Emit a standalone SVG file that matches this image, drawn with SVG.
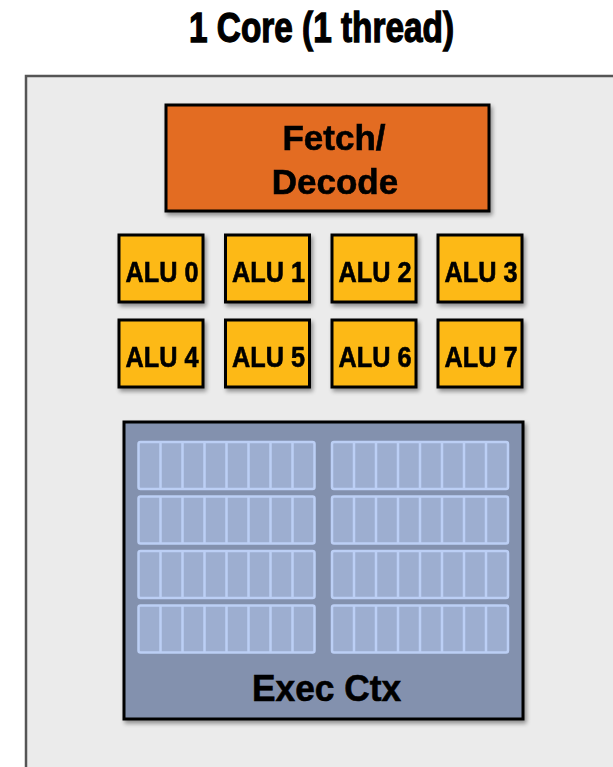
<svg xmlns="http://www.w3.org/2000/svg" width="613" height="767" viewBox="0 0 613 767">
<defs>
<style>
.t{font-family:"Liberation Sans",Arial,sans-serif;font-weight:bold;fill:#000;text-anchor:middle;stroke:#000;stroke-width:0.6}
.alu rect{fill:#fdb913;stroke:#000;stroke-width:3}
.alu text{font-size:29px}
.grp{fill:#9daed0;stroke:#bccff5;stroke-width:2.5}
.cl{stroke:#bccff5;stroke-width:2.5}
</style>
<filter id="sh" x="-10%" y="-10%" width="130%" height="130%">
<feGaussianBlur in="SourceAlpha" stdDeviation="2"/>
<feOffset dx="2" dy="3"/>
<feComponentTransfer><feFuncA type="linear" slope="0.4"/></feComponentTransfer>
<feMerge><feMergeNode/><feMergeNode in="SourceGraphic"/></feMerge>
</filter>
<g id="regrow">
<rect class="grp" x="0" y="0" width="176" height="47" rx="2"/>
<path class="cl" d="M22 0V47M44 0V47M66 0V47M88 0V47M110 0V47M132 0V47M154 0V47"/>
</g>
</defs>
<rect width="613" height="767" fill="#fff"/>
<text class="t" x="321.5" y="42" font-size="42" style="stroke-width:1.3" textLength="265" lengthAdjust="spacingAndGlyphs">1 Core (1 thread)</text>
<g id="core">
<rect x="26" y="76" width="600" height="720" fill="#ebebeb" stroke="#555" stroke-width="2.5"/>
</g>
<g id="fetch" filter="url(#sh)">
<rect x="166" y="105" width="323" height="106" fill="#e36c23" stroke="#000" stroke-width="3"/>
<text class="t" x="334" y="150" font-size="35">Fetch/</text>
<text class="t" x="335" y="194" font-size="35">Decode</text>
</g>
<g id="alu0" class="alu" filter="url(#sh)"><rect x="119" y="235" width="84" height="67"/><text class="t" x="162" y="282" textLength="73" lengthAdjust="spacingAndGlyphs">ALU 0</text></g>
<g id="alu1" class="alu" filter="url(#sh)"><rect x="225.5" y="235" width="84" height="67"/><text class="t" x="268.5" y="282" textLength="73" lengthAdjust="spacingAndGlyphs">ALU 1</text></g>
<g id="alu2" class="alu" filter="url(#sh)"><rect x="332" y="235" width="84" height="67"/><text class="t" x="375" y="282" textLength="73" lengthAdjust="spacingAndGlyphs">ALU 2</text></g>
<g id="alu3" class="alu" filter="url(#sh)"><rect x="438" y="235" width="84" height="67"/><text class="t" x="481" y="282" textLength="73" lengthAdjust="spacingAndGlyphs">ALU 3</text></g>
<g id="alu4" class="alu" filter="url(#sh)"><rect x="119" y="320" width="84" height="67"/><text class="t" x="162" y="367" textLength="73" lengthAdjust="spacingAndGlyphs">ALU 4</text></g>
<g id="alu5" class="alu" filter="url(#sh)"><rect x="225.5" y="320" width="84" height="67"/><text class="t" x="268.5" y="367" textLength="73" lengthAdjust="spacingAndGlyphs">ALU 5</text></g>
<g id="alu6" class="alu" filter="url(#sh)"><rect x="332" y="320" width="84" height="67"/><text class="t" x="375" y="367" textLength="73" lengthAdjust="spacingAndGlyphs">ALU 6</text></g>
<g id="alu7" class="alu" filter="url(#sh)"><rect x="438" y="320" width="84" height="67"/><text class="t" x="481" y="367" textLength="73" lengthAdjust="spacingAndGlyphs">ALU 7</text></g>
<g id="execctx">
<rect x="124" y="422" width="399" height="297" fill="#8391ae" stroke="#000" stroke-width="3" filter="url(#sh)"/>
<use href="#regrow" x="138.5" y="442"/>
<use href="#regrow" x="332" y="442"/>
<use href="#regrow" x="138.5" y="496.5"/>
<use href="#regrow" x="332" y="496.5"/>
<use href="#regrow" x="138.5" y="551"/>
<use href="#regrow" x="332" y="551"/>
<use href="#regrow" x="138.5" y="605.5"/>
<use href="#regrow" x="332" y="605.5"/>
<text class="t" x="326.5" y="701" font-size="36" textLength="149" lengthAdjust="spacingAndGlyphs">Exec Ctx</text>
</g>
<g id="connectors"/>
</svg>
